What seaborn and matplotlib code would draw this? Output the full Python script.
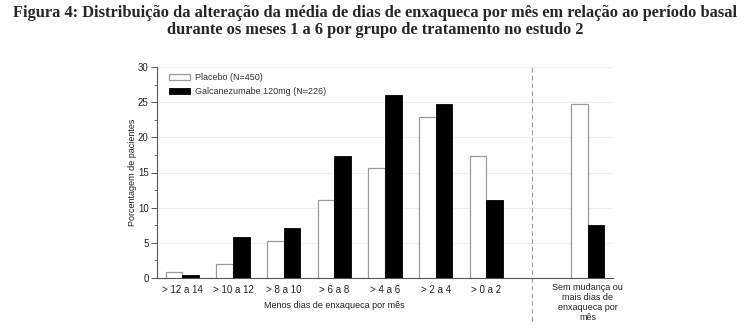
import matplotlib
matplotlib.use("Agg")
import matplotlib.pyplot as plt
import seaborn as sns
import pandas as pd
from matplotlib.ticker import MultipleLocator

categories = ["> 12 a 14", "> 10 a 12", "> 8 a 10", "> 6 a 8", "> 4 a 6", "> 2 a 4", "> 0 a 2",
              "Sem mudança ou\nmais dias de\nenxaqueca por\nmês"]
placebo = [0.9, 1.95, 5.3, 11.1, 15.7, 22.9, 17.3, 24.7]
galca = [0.4, 5.8, 7.1, 17.3, 26.0, 24.8, 11.1, 7.5]
groups = ["Placebo (N=450)", "Galcanezumabe 120mg (N=226)"]

df = pd.DataFrame({
    "cat": categories * 2,
    "val": placebo + galca,
    "grp": [groups[0]] * len(categories) + [groups[1]] * len(categories),
})
order = categories[:7] + [" "] + categories[7:]

sns.set_style("white")
plt.rcParams["font.family"] = ["Liberation Sans", "DejaVu Sans"]

fig = plt.figure(figsize=(7.5, 3.29), dpi=100)
ax = fig.add_axes([157 / 750, 1 - 278 / 329, (613 - 157) / 750, (278 - 67) / 329])

sns.barplot(data=df, x="cat", y="val", hue="grp", order=order, hue_order=groups,
            palette=["white", "black"], width=0.66, ax=ax, legend=True, zorder=3)
for p in ax.patches:
    fc = p.get_facecolor()
    if fc[0] > 0.5:
        p.set_edgecolor("#9a9a9a")
        p.set_linewidth(0.9)
    else:
        p.set_edgecolor("black")
        p.set_linewidth(0.6)

ax.set_xlim(-0.5, 8.5)
ax.set_ylim(0, 30)
ax.yaxis.set_major_locator(MultipleLocator(5))
ax.yaxis.set_minor_locator(MultipleLocator(2.5))
ax.grid(axis="y", color="#eeeeee", linewidth=0.8, zorder=0)
ax.set_axisbelow(True)
for s in ["top", "right"]:
    ax.spines[s].set_visible(False)
for s in ["left", "bottom"]:
    ax.spines[s].set_color("#555555")
    ax.spines[s].set_linewidth(0.8)
ax.tick_params(axis="y", which="major", length=4, width=0.7, color="#555555", labelsize=7, pad=2, left=True)
ax.tick_params(axis="y", which="minor", length=2, width=0.6, color="#555555", left=True)
ax.tick_params(axis="x", length=0, labelsize=7, pad=5, labelcolor="#222222")
ax.tick_params(axis="y", labelcolor="#222222")
ax.set_xlabel("")
ax.set_ylabel("Porcentagem de pacientes", fontsize=6.5, color="#222222", labelpad=1)

for lab in ax.get_xticklabels():
    if "\n" in lab.get_text():
        lab.set_fontsize(6.5)
        lab.set_linespacing(1.15)
        lab.set_y(0.01)

ax.text(3, -0.11, "Menos dias de enxaqueca por mês", transform=ax.get_xaxis_transform(),
        ha="center", va="top", fontsize=6.5, color="#222222")

ax.axvline(6.9, ymin=-0.205, ymax=1.0, color="#999999", linestyle=(0, (4, 3)),
           linewidth=0.8, clip_on=False, zorder=1)

leg = ax.legend(loc="upper left", bbox_to_anchor=(0.015, 0.995), frameon=False, fontsize=6.5,
                handlelength=2.3, handleheight=0.6, labelspacing=0.55, borderaxespad=0.2,
                handletextpad=0.6)
for h in leg.legend_handles:
    if h.get_facecolor()[0] > 0.5:
        h.set_edgecolor("#9a9a9a")
for t in leg.get_texts():
    t.set_color("#333333")

fig.text(0.5, 0.985, "Figura 4: Distribuição da alteração da média de dias de enxaqueca por mês em relação ao período basal\n"
         "durante os meses 1 a 6 por grupo de tratamento no estudo 2",
         ha="center", va="top", fontsize=11.8, fontweight="bold",
         family=["Liberation Serif", "DejaVu Serif"], linespacing=1.1)

fig.savefig("out.png", dpi=100)
